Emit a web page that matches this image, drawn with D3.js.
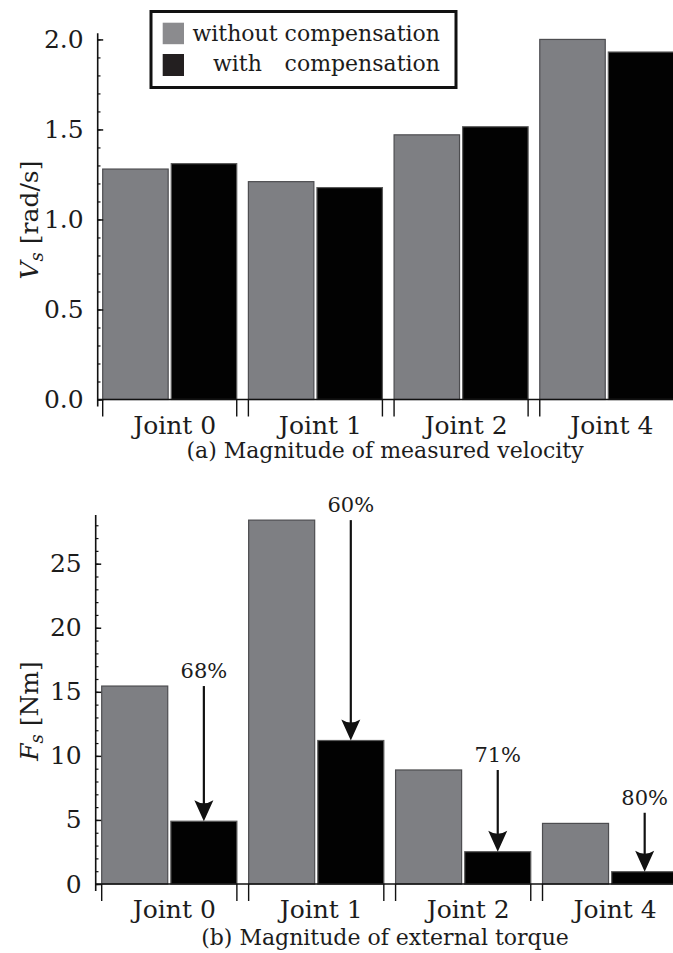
<!DOCTYPE html>
<html>
<head>
<meta charset="utf-8">
<script src="https://cdn.jsdelivr.net/npm/d3@7"></script>
<style>
  body { margin: 0; background: #fff; }
  svg { display: block; }
  text { font-family: "DejaVu Serif", "Liberation Serif", serif; fill: #1c1c1c; }
</style>
</head>
<body>
<svg id="chart" width="673" height="953"></svg>
<script>
// values
var joints = ["Joint 0", "Joint 1", "Joint 2", "Joint 4"];
var series = ["without", "with"];
var legendLabels = ["without compensation", "compensation"];

var velWithout = [1.28, 1.21, 1.47, 2.0];
var velWith = [1.31, 1.177, 1.515, 1.93];
var velTicks = [0.0, 0.5, 1.0, 1.5, 2.0];

var torqueWithout = [15.45, 28.4, 8.9, 4.73];
var torqueWith = [4.9, 11.2, 2.52, 0.96];
var torqueTicks = [0, 5, 10, 15, 20, 25];
var reductionLabels = ["68%", "60%", "71%", "80%"];

var grayFill = "#7e7f83", grayStroke = "#4d4d50";
var blackFill = "#020202", blackStroke = "#5a5a5a";

var svg = d3.select("#chart");
var fontSize = 25;
var serif = "DejaVu Serif";

function drawPanel(opt) {
    var g = svg.append("g");

    var y = d3.scaleLinear().domain([0, opt.yMax]).range([opt.yZero, opt.yTop]);
    var x0 = d3.scaleBand().domain(joints).range(opt.xRange).paddingInner(0.08).paddingOuter(0);
    var bw = x0.bandwidth();
    var x1 = d3.scaleBand().domain(series).range([0, bw]).paddingInner(0.045);

    // bars
    joints.forEach(function(j, i) {
        var vals = {without: opt.without[i], with: opt.with[i]};
        series.forEach(function(s) {
            g.append("rect")
                .attr("x", x0(j) + x1(s))
                .attr("y", y(vals[s]))
                .attr("width", x1.bandwidth())
                .attr("height", y(0) - y(vals[s]))
                .attr("fill", s == "without" ? grayFill : blackFill)
                .attr("stroke", s == "without" ? grayStroke : blackStroke)
                .attr("stroke-width", 1.2);
        });
    });

    // y axis spine, a bit below the baseline
    g.append("line")
        .attr("x1", opt.axisX).attr("x2", opt.axisX)
        .attr("y1", y(opt.yMax)).attr("y2", opt.yZero + 7)
        .attr("stroke", "#111").attr("stroke-width", 1.6);

    // minor ticks
    var minor = g.append("g")
        .attr("transform", "translate(" + opt.axisX + ",0)")
        .call(d3.axisLeft(y).tickValues(d3.range(0, opt.yMax, opt.minorStep))
            .tickSizeInner(-2.8).tickSizeOuter(0).tickFormat(""));
    minor.select(".domain").remove();
    minor.selectAll("line").attr("stroke", "#111").attr("stroke-width", 1.2);

    // major ticks + labels
    var major = g.append("g")
        .attr("transform", "translate(" + opt.axisX + ",0)")
        .call(d3.axisLeft(y).tickValues(opt.ticks)
            .tickSizeInner(-5.5).tickSizeOuter(0).tickPadding(14)
            .tickFormat(opt.fmt));
    major.attr("font-family", serif);
    major.select(".domain").remove();
    major.selectAll("line").attr("stroke", "#111").attr("stroke-width", 1.5);
    major.selectAll("text")
        .attr("font-size", fontSize)
        .attr("font-family", serif)
        .attr("fill", "#1c1c1c");

    // baseline
    g.append("line")
        .attr("x1", opt.axisX).attr("x2", 673)
        .attr("y1", opt.yZero).attr("y2", opt.yZero)
        .attr("stroke", "#111").attr("stroke-width", 1.6);

    // group brackets + joint names
    joints.forEach(function(j) {
        [x0(j), x0(j) + bw].forEach(function(xx) {
            g.append("line")
                .attr("x1", xx).attr("x2", xx)
                .attr("y1", opt.yZero).attr("y2", opt.yZero + 17)
                .attr("stroke", "#111").attr("stroke-width", 1.4);
        });
        g.append("text")
            .attr("x", x0(j) + bw / 2 + 5)
            .attr("y", opt.yZero + 34)
            .attr("text-anchor", "middle")
            .attr("font-size", fontSize)
            .text(j);
    });

    // caption
    g.append("text")
        .attr("x", 385)
        .attr("y", opt.captionY)
        .attr("text-anchor", "middle")
        .attr("font-size", 22)
        .text(opt.caption);

    // y label
    var yl = g.append("text")
        .attr("transform", "translate(38," + opt.labelY + ") rotate(-90)")
        .attr("text-anchor", "middle")
        .attr("font-size", fontSize);
    yl.append("tspan").attr("font-style", "italic").text(opt.sym);
    yl.append("tspan").attr("font-style", "italic").attr("font-size", 18).attr("dy", 5).text("s");
    yl.append("tspan").attr("dy", -5).text(" " + opt.unit);

    return {g: g, x0: x0, x1: x1, y: y};
}

// (a) velocity
var top = drawPanel({
    without: velWithout, with: velWith, ticks: velTicks,
    fmt: d3.format(".1f"), yMax: 2.034, minorStep: 0.1,
    yZero: 399.5, yTop: 33.3, xRange: [102.7, 673.8], axisX: 97.7,
    captionY: 458, caption: "(a) Magnitude of measured velocity",
    labelY: 220, sym: "V", unit: "[rad/s]"
});

// legend
var lg = svg.append("g");
lg.append("rect").attr("x", 151).attr("y", 11.5).attr("width", 305).attr("height", 76)
    .attr("fill", "#fff").attr("stroke", "#111").attr("stroke-width", 3);
lg.append("rect").attr("x", 162.7).attr("y", 22.7).attr("width", 21.3).attr("height", 21.5)
    .attr("fill", "#8b8b8e");
lg.append("rect").attr("x", 162.7).attr("y", 54).attr("width", 21.3).attr("height", 22)
    .attr("fill", "#231f20");
lg.append("text").attr("x", 440).attr("y", 41).attr("text-anchor", "end")
    .attr("font-size", 22).text(legendLabels[0]);
lg.append("text").attr("x", 213).attr("y", 71)
    .attr("font-size", 22).text("with");
lg.append("text").attr("x", 440).attr("y", 71).attr("text-anchor", "end")
    .attr("font-size", 22).text(legendLabels[1]);

// (b) torque
var bot = drawPanel({
    without: torqueWithout, with: torqueWith, ticks: torqueTicks,
    fmt: d3.format("d"), yMax: 28.8, minorStep: 1,
    yZero: 884, yTop: 515, xRange: [101.7, 677.7], axisX: 95.7,
    captionY: 945, caption: "(b) Magnitude of external torque",
    labelY: 711, sym: "F", unit: "[Nm]"
});

// reduction arrows
joints.forEach(function(j, i) {
    var cx = bot.x0(j) + bot.x1("with") + bot.x1.bandwidth() / 2;
    var from = bot.y(Math.max(torqueWithout[i], torqueWith[i] + 4.6));
    var tip = bot.y(torqueWith[i]);
    bot.g.append("line")
        .attr("x1", cx).attr("x2", cx)
        .attr("y1", from).attr("y2", tip - 12)
        .attr("stroke", "#111").attr("stroke-width", 2.2);
    bot.g.append("path")
        .attr("d", "M" + cx + "," + tip +
            " L" + (cx - 9.5) + "," + (tip - 21) +
            " Q" + cx + "," + (tip - 15) + " " + (cx + 9.5) + "," + (tip - 21) + " Z")
        .attr("fill", "#111");
    bot.g.append("text")
        .attr("x", cx)
        .attr("y", from - 8)
        .attr("text-anchor", "middle")
        .attr("font-size", 21)
        .text(reductionLabels[i]);
});
</script>
</body>
</html>
